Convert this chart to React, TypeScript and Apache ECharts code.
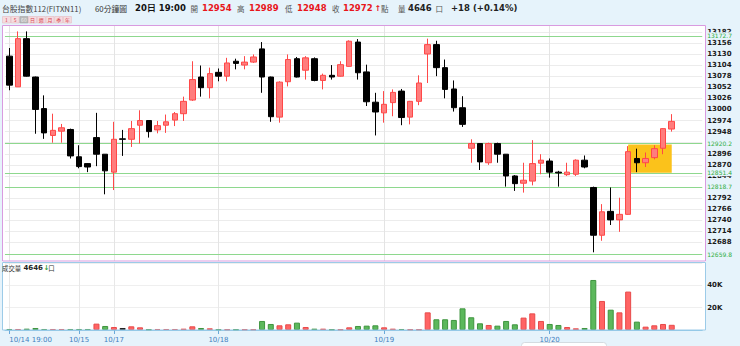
import React, { useEffect, useRef } from "react";
import * as echarts from "echarts";

// [open, close, low, high] per 60-minute bar
const candles: number[][] = [
  [13125, 13057, 13045, 13144], [13053, 13166, 13053, 13183], [13166, 13078, 13077, 13183], [13076, 13000, 12943, 13077],
  [13002, 12945, 12931, 13033], [12939, 12951, 12922, 12990], [12949, 12957, 12922, 12966], [12953, 12891, 12885, 12955],
  [12889, 12866, 12862, 12916], [12873, 12865, 12853, 12874], [12934, 12895, 12867, 12992], [12895, 12856, 12801, 12895],
  [12853, 12930, 12811, 12971], [12931, 12930, 12891, 12952], [12930, 12955, 12912, 12973], [12963, 12974, 12920, 12998],
  [12974, 12948, 12934, 12975], [12952, 12962, 12944, 12973], [12963, 12971, 12945, 12988], [12975, 12990, 12961, 12994],
  [12990, 13019, 12973, 13030], [13022, 13070, 13020, 13113], [13076, 13051, 13030, 13103], [13051, 13084, 13026, 13098],
  [13087, 13078, 13066, 13096], [13078, 13109, 13066, 13121], [13113, 13108, 13094, 13119], [13104, 13111, 13094, 13125],
  [13111, 13123, 13109, 13129], [13142, 13076, 13039, 13158], [13076, 12983, 12971, 13077], [12982, 13064, 12969, 13066],
  [13065, 13117, 13054, 13129], [13119, 13076, 13075, 13123], [13092, 13121, 13070, 13125], [13119, 13068, 13066, 13122],
  [13068, 13080, 13047, 13084], [13080, 13076, 13070, 13104], [13078, 13105, 13077, 13113], [13101, 13160, 13100, 13162],
  [13158, 13086, 13070, 13165], [13088, 13018, 13008, 13105], [13017, 12994, 12939, 13039], [12992, 13012, 12969, 13043],
  [13016, 13040, 12984, 13047], [13043, 12981, 12963, 13048], [12982, 13019, 12965, 13020], [13019, 13062, 13010, 13080],
  [13130, 13152, 13062, 13166], [13152, 13098, 13078, 13161], [13098, 13047, 13026, 13117], [13048, 13004, 12995, 13068],
  [13004, 12965, 12959, 13031], [12909, 12920, 12875, 12930], [12920, 12877, 12858, 12921], [12875, 12920, 12870, 12922],
  [12920, 12895, 12875, 12922], [12895, 12844, 12819, 12895], [12844, 12826, 12809, 12846], [12827, 12834, 12805, 12875],
  [12832, 12873, 12822, 12928], [12874, 12881, 12848, 12895], [12879, 12853, 12840, 12885], [12853, 12851, 12819, 12856],
  [12847, 12853, 12844, 12875], [12848, 12881, 12844, 12883], [12881, 12865, 12862, 12892], [12817, 12705, 12665, 12819],
  [12705, 12760, 12692, 12778], [12761, 12741, 12729, 12817], [12741, 12754, 12713, 12793], [12754, 12901, 12753, 12914],
  [12885, 12875, 12853, 12908], [12875, 12885, 12865, 12899], [12887, 12908, 12883, 12916], [12909, 12955, 12895, 12956],
  [12954, 12972, 12948, 12989],
];

const volumes: number[] = [
  900, 900, 1200, 1800, 900, 900, 900, 900, 900, 900,
  5700, 3600, 2700, 1800, 3300, 2400, 600, 900, 900, 900,
  1200, 3300, 1800, 1500, 600, 600, 600, 600, 600, 8100,
  5400, 4200, 5100, 6600, 2700, 1200, 1200, 600, 600, 2400,
  3600, 3900, 4200, 2400, 1200, 900, 600, 600, 15800, 9600,
  9600, 9000, 19400, 11400, 6000, 4500, 3900, 8100, 5100, 11100,
  14900, 8100, 5400, 4500, 2700, 1500, 1800, 44800, 26000, 18200,
  15800, 34400, 7500, 3000, 4200, 5400, 4646,
];

// grid-line ticks of the price axis
const yTicks: number[] = [
  12688, 12714, 12740, 12766, 12792, 12818, 12844, 12870, 12896, 12922,
  12948, 12974, 13000, 13026, 13052, 13078, 13104, 13130, 13156, 13182,
];
// price labels actually visible (12818 and 12922 are covered by level labels)
const yLabels: number[] = [
  12688, 12714, 12740, 12766, 12792, 12844, 12870, 12896,
  12948, 12974, 13000, 13026, 13052, 13078, 13104, 13130, 13156, 13182,
];
const levelLines: number[] = [13172.7, 12920.2, 12851.4, 12818.7, 12659.8];
const dayStartIdx: number[] = [0, 8, 12, 24, 43, 62];
const dayLabels: string[] = ["10/14 19:00", "10/15", "10/17", "10/18", "10/19", "10/20"];
const zoneIdx: number[] = [71, 76];
const zoneRange: number[] = [12918, 12851.4];
const periodButtons: string[] = ["1", "5", "60", "日", "週", "月", "季", "年"];
const quoteLabels: string[] = ["開", "高", "低", "收"];
const quoteValues: number[] = [12954, 12989, 12948, 12972];
const lastVolume = 4646;
const changeText = "+18 (+0.14%)";

const PAD = 3;
const cats = Array.from({ length: candles.length + PAD }, (_, i) => String(i));
const GRID_LEFT = 4.94;
const GRID_W = 697.3;
const RED = { fill: "#ff6464", border: "#e84a4a" };
const GREEN = { fill: "#5cb85c", border: "#3f953f" };
const BLACK = { fill: "#333333", border: "#222222" };
const BG = "#e6f3fb";
const FONT = '"DejaVu Sans", Verdana, sans-serif';
const CJK = '"Noto Sans CJK TC", "Noto Sans", sans-serif';

function buildOption() {
  const volData = volumes.map((v, i) => {
    const c = candles[i][1];
    const prev = i === 0 ? candles[i][0] : candles[i - 1][1];
    const col = c > prev ? RED : c < prev ? GREEN : BLACK;
    return { value: v, itemStyle: { color: col.fill, borderColor: col.border, borderWidth: 1 } };
  });
  const labelMap: Record<number, string> = {};
  dayStartIdx.forEach((d, k) => (labelMap[d] = dayLabels[k]));
  const isDay = (i: number) => dayStartIdx.indexOf(i) >= 0;
  const dayLines = dayStartIdx.map((d) => ({ xAxis: d }));

  const graphic: any[] = [
    { type: "rect", z: -10, shape: { x: 2, y: 25, width: 704, height: 237 }, style: { fill: "#fff" } },
    { type: "rect", z: -10, shape: { x: 2, y: 262, width: 704, height: 68 }, style: { fill: "#fff" } },
    { type: "rect", z: 50, shape: { x: 2.5, y: 262.5, width: 703, height: 67.5 }, style: { fill: "none", stroke: "#9ccbe8", lineWidth: 1 } },
    { type: "rect", z: 50, shape: { x: 2.5, y: 25.5, width: 703, height: 235.5 }, style: { fill: "none", stroke: "#d99be0", lineWidth: 1 } },
    // scroller box at bottom (behind the axis labels)
    { type: "rect", z: -5, shape: { x: 521.5, y: 342.5, width: 85, height: 10, r: 3 }, style: { fill: "#fff", stroke: "#d4dbe0", lineWidth: 1 } },
    // header
    { type: "text", x: 2, y: 8, style: { text: "台股指數112(FITXN11)", font: `7.8px ${CJK}`, fill: "#444", verticalAlign: "middle" } },
    { type: "text", x: 95, y: 8, style: { text: "60分鐘圖", font: `7.8px ${CJK}`, fill: "#333", verticalAlign: "middle" } },
    { type: "text", x: 135, y: 8, style: { text: "20日 19:00", font: `bold 8.5px ${FONT}`, fill: "#111", verticalAlign: "middle" } },
  ];
  const lblX = [190.5, 237, 285, 332];
  const valX = [202, 249, 297, 343];
  quoteLabels.forEach((l, k) => {
    graphic.push({ type: "text", x: lblX[k], y: 8, style: { text: l, font: `7.5px ${CJK}`, fill: "#555", verticalAlign: "middle" } });
    graphic.push({ type: "text", x: valX[k], y: 8, style: { text: String(quoteValues[k]), font: `bold 8.5px ${FONT}`, fill: "#e8161b", verticalAlign: "middle" } });
  });
  graphic.push(
    { type: "text", x: 374.5, y: 8, style: { text: "↑", font: `bold 8px ${FONT}`, fill: "#e8161b", verticalAlign: "middle" } },
    { type: "text", x: 381, y: 8, style: { text: "點", font: `7.5px ${CJK}`, fill: "#555", verticalAlign: "middle" } },
    { type: "text", x: 398, y: 8, style: { text: "量", font: `7.5px ${CJK}`, fill: "#555", verticalAlign: "middle" } },
    { type: "text", x: 408, y: 8, style: { text: String(lastVolume), font: `bold 8.5px ${FONT}`, fill: "#222", verticalAlign: "middle" } },
    { type: "text", x: 435.5, y: 8, style: { text: "口", font: `7.5px ${CJK}`, fill: "#555", verticalAlign: "middle" } },
    { type: "text", x: 451, y: 8, style: { text: changeText, font: `bold 8.5px ${FONT}`, fill: "#222", verticalAlign: "middle" } },
    // volume pane title
    { type: "text", x: 2, y: 268, z: 60, style: { text: "成交量", font: `6.4px ${CJK}`, fill: "#333", verticalAlign: "middle" } },
    { type: "text", x: 23.5, y: 268, z: 60, style: { text: String(lastVolume), font: `bold 7px ${FONT}`, fill: "#222", verticalAlign: "middle" } },
    { type: "text", x: 43.5, y: 268, z: 60, style: { text: "↓", font: `bold 7px ${FONT}`, fill: "#2e9e3a", verticalAlign: "middle" } },
    { type: "text", x: 48.3, y: 268, z: 60, style: { text: "口", font: `6.4px ${CJK}`, fill: "#333", verticalAlign: "middle" } },
  );
  periodButtons.forEach((b, k) => {
    const sel = b === "60";
    graphic.push({
      type: "rect", shape: { x: 2.5 + k * 8.7, y: 16.5, width: 8, height: 6.5 },
      style: { fill: sel ? "#b9b9b9" : "#f5dde0", stroke: sel ? "#a5a5a5" : "#e6b8bf", lineWidth: 0.6 },
    });
    graphic.push({
      type: "text", x: 6.5 + k * 8.7, y: 19.9,
      style: { text: b, font: `5px ${CJK}`, fill: sel ? "#eee" : "#d8434f", align: "center", verticalAlign: "middle" },
    });
  });

  return {
    animation: false,
    backgroundColor: BG,
    graphic,
    grid: [
      { left: GRID_LEFT, top: 25, width: GRID_W, height: 236, outerBoundsMode: "none", containLabel: false },
      { left: GRID_LEFT, top: 263, width: GRID_W, height: 67, outerBoundsMode: "none", containLabel: false },
    ],
    xAxis: [
      {
        type: "category", gridIndex: 0, data: cats, boundaryGap: true,
        axisLine: { show: false }, axisTick: { show: false }, axisLabel: { show: false }, splitLine: { show: false },
      },
      {
        type: "category", gridIndex: 1, data: cats, boundaryGap: true,
        axisLine: { show: true, lineStyle: { color: "#8fc6e6", width: 1 } },
        axisTick: { show: true, alignWithLabel: true, length: 4, interval: (i: number) => isDay(i), lineStyle: { color: "#6aa9d8" } },
        axisLabel: {
          show: true, interval: (i: number) => isDay(i), formatter: (_v: string, i: number) => labelMap[i] ?? "",
          color: "#3f7fc0", fontSize: 7, fontFamily: FONT, margin: 6, alignMinLabel: "left",
        },
        splitLine: { show: false },
      },
    ],
    yAxis: [
      {
        type: "value", gridIndex: 0, position: "right", min: 12644.6, max: 13198, scale: true,
        axisLine: { show: false },
        axisTick: { show: false, customValues: yTicks },
        axisLabel: {
          customValues: yLabels, formatter: (v: number) => String(v),
          color: "#1a1a1a", fontSize: 7, fontWeight: "bold", fontFamily: FONT, margin: 5, align: "left",
        },
        splitLine: { show: true, lineStyle: { color: "#ececec", width: 1 } },
      },
      {
        type: "value", gridIndex: 1, position: "right", min: 0, max: 60000, interval: 20000,
        axisLine: { show: false }, axisTick: { show: false },
        axisLabel: {
          color: "#1a1a1a", fontSize: 7, fontWeight: "bold", fontFamily: FONT, margin: 5, align: "left",
          showMinLabel: false, showMaxLabel: false, formatter: (v: number) => (v ? v / 1000 + "K" : ""),
        },
        splitLine: { show: true, lineStyle: { color: "#efefef", width: 1 } },
      },
    ],
    series: [
      {
        type: "line", xAxisIndex: 0, yAxisIndex: 0, data: [], z: 1, silent: true,
        markArea: {
          silent: true, z: 1,
          itemStyle: { color: "#fbc21b", opacity: 1 },
          data: [[{ xAxis: zoneIdx[0], yAxis: zoneRange[0] }, { xAxis: zoneIdx[1], yAxis: zoneRange[1] }]],
        },
        markLine: {
          silent: true, z: 1, symbol: "none", animation: false,
          data: [
            ...dayLines.map((d) => ({ ...d, lineStyle: { color: "#e4e4e4", width: 1, type: "solid" }, label: { show: false } })),
            ...levelLines.map((v) => ({
              yAxis: v,
              lineStyle: { color: "#8ed88e", width: 1, type: "solid" },
              label: {
                show: true, position: "end", distance: 5, formatter: String(v), color: "#2fae3f",
                fontSize: 6, fontFamily: FONT, backgroundColor: BG, padding: [0.5, 1, 0.5, 0],
              },
            })),
          ],
        },
      },
      {
        type: "candlestick", xAxisIndex: 0, yAxisIndex: 0, z: 3, barWidth: 6,
        data: candles,
        itemStyle: {
          color: "#ff7d7d", color0: "#000000", borderColor: "#ff4848", borderColor0: "#000000",
          borderColorDoji: "#222", borderWidth: 1,
        },
      },
      {
        type: "line", xAxisIndex: 1, yAxisIndex: 1, data: [], z: 1, silent: true,
        markLine: {
          silent: true, z: 1, symbol: "none",
          data: dayLines.map((d) => ({ ...d, lineStyle: { color: "#e8e8e8", width: 1, type: "solid" }, label: { show: false } })),
        },
      },
      {
        type: "bar", xAxisIndex: 1, yAxisIndex: 1, z: 3, barWidth: 6, data: volData,
      },
    ],
  };
}

export default function App() {
  const ref = useRef<HTMLDivElement>(null);
  useEffect(() => {
    if (!ref.current) return;
    const chart = echarts.init(ref.current, null, { renderer: "svg" });
    chart.setOption(buildOption() as any);
    return () => chart.dispose();
  }, []);
  return (
    <div
      ref={ref}
      style={{ position: "absolute", left: 0, top: 0, width: 740, height: 346, background: BG }}
    />
  );
}
